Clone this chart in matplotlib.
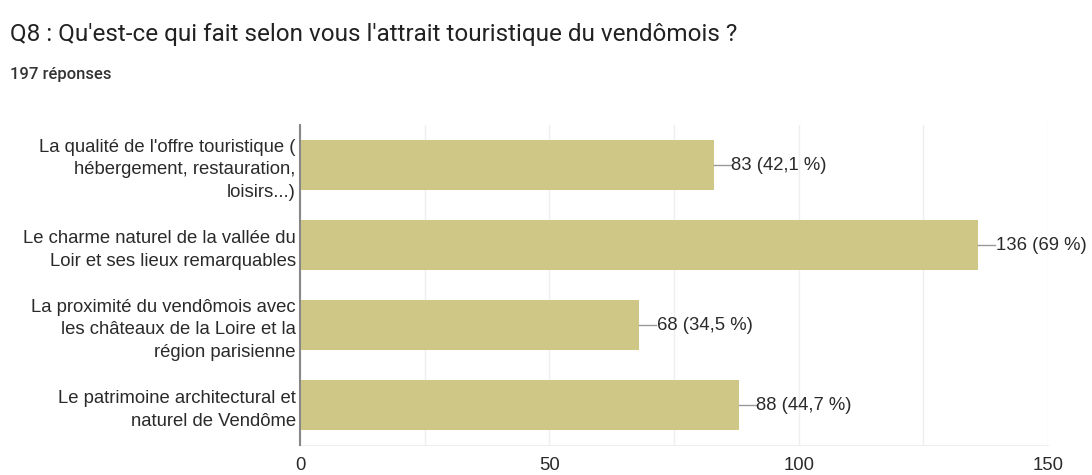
import numpy as np
import matplotlib
matplotlib.use("Agg")
import matplotlib.pyplot as plt

plt.rcParams['font.family'] = ['Liberation Sans', 'DejaVu Sans']

# donnees
categories = [
    "La qualité de l'offre touristique (\nhébergement, restauration,\nloisirs...)",
    "Le charme naturel de la vallée du\nLoir et ses lieux remarquables",
    "La proximité du vendômois avec\nles châteaux de la Loire et la\nrégion parisienne",
    "Le patrimoine architectural et\nnaturel de Vendôme",
]
counts = [83, 136, 68, 88]
pcts = ["42,1", "69", "34,5", "44,7"]
total = 197

fig = plt.figure(figsize=(10.92, 4.75), dpi=100)
ax = fig.add_axes([300 / 1092, 30 / 475, 748 / 1092, 320 / 475])

y = np.arange(len(categories))
ax.barh(y, counts, height=0.62, color='#cfc785', zorder=2)
ax.set_ylim(len(categories) - 0.5, -0.5)
ax.set_xlim(0, 150)
ax.set_yticks(y)
ax.set_yticklabels(categories, fontsize=13.3, color='#2a2a2a', linespacing=1.45)
ax.set_xticks([0, 50, 100, 150])
ax.set_xticks([25, 75, 125], minor=True)
ax.tick_params(axis='x', which='both', length=0, labelsize=13.3, labelcolor='#2a2a2a', pad=9)
ax.tick_params(axis='y', length=0, pad=3)
ax.grid(axis='x', which='both', color='#efefef', linewidth=1, zorder=0)
for s in ['top', 'right']:
    ax.spines[s].set_visible(False)
ax.spines['bottom'].set_color('#efefef')
ax.spines['left'].set_color('#888888')
ax.spines['left'].set_linewidth(1.5)
ax.spines['left'].set_zorder(3)

for i, (c, p) in enumerate(zip(counts, pcts)):
    ax.plot([c, c + 3.4], [i, i], color='#999999', linewidth=1, zorder=3)
    ax.text(c + 3.5, i, f"{c} ({p} %)", va='center', ha='left', fontsize=13.3, color='#2a2a2a')

fig.text(10 / 1092, 1 - 35 / 475, "Q8 : Qu'est-ce qui fait selon vous l'attrait touristique du vendômois ?",
         fontsize=17.5, color='#222222', va='center', family=['Roboto', 'DejaVu Sans'])
fig.text(10 / 1092, 1 - 75 / 475, f"{total} réponses", fontsize=12, color='#333333', va='center',
         fontweight='medium', family=['Roboto', 'DejaVu Sans'])

fig.savefig("out.png", dpi=100)
